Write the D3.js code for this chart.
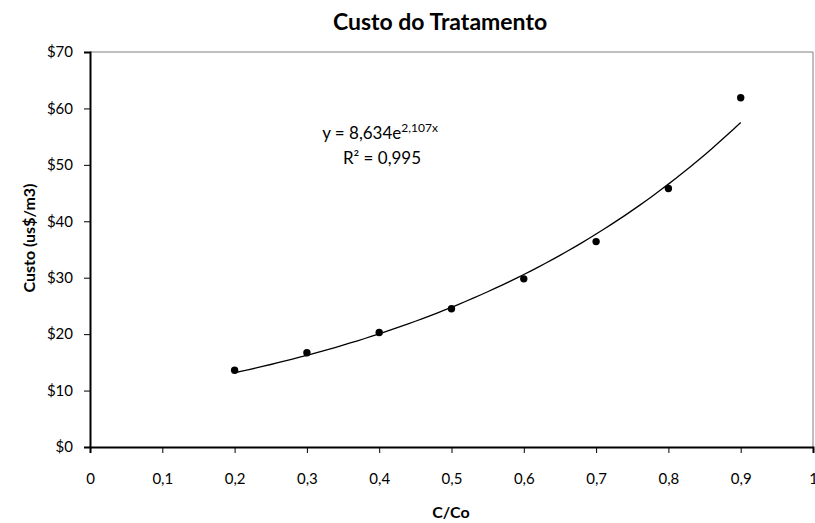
<!DOCTYPE html>
<meta charset="utf-8">
<style>
body { margin: 0; background: #fff; }
text { font-family: Lato, "Open Sans", sans-serif; }
.axis text { font-size: 15px; fill: #000; }
.axis path, .axis line { stroke: #000; }
.titulo { font-size: 23px; font-weight: bold; }
.rotulo { font-size: 16px; font-weight: bold; }
.eq { font-size: 17px; }
</style>

<svg width="815" height="523"></svg>

<script src="https://d3js.org/d3.v7.min.js"></script>
<script>

// dados
var razao = [0.2, 0.3, 0.4, 0.5, 0.6, 0.7, 0.8, 0.9];
var custo = [13.6, 16.7, 20.3, 24.5, 29.8, 36.4, 45.8, 61.9];
var xTicks = [0, 0.1, 0.2, 0.3, 0.4, 0.5, 0.6, 0.7, 0.8, 0.9, 1];
var yTicks = [0, 10, 20, 30, 40, 50, 60, 70];
// linha de tendencia exponencial (y = a e^(b x))
var tendA = 8.634, tendB = 2.107;

var svg = d3.select("svg"),
    margin = {top: 52, right: 2, bottom: 76, left: 90},
    width = +svg.attr("width") - margin.left - margin.right,
    height = +svg.attr("height") - margin.top - margin.bottom;

var g = svg.append("g").attr("transform", "translate(" + margin.left + "," + margin.top + ")");

var x = d3.scaleLinear().domain([0, 1]).range([0, width]);
var y = d3.scaleLinear().domain([0, 70]).range([height, 0]);

var virgula = d3.formatLocale({decimal: ",", thousands: ".", grouping: [3], currency: ["$", ""]});

// borda da area do grafico (topo e direita)
g.append("path")
    .attr("d", "M0,0H" + width + "V" + height)
    .attr("fill", "none")
    .attr("stroke", "#7f7f7f")
    .attr("stroke-width", 1);

g.append("g")
    .attr("class", "axis")
    .attr("transform", "translate(0," + height + ")")
    .call(d3.axisBottom(x).tickValues(xTicks).tickSize(6).tickPadding(20)
      .tickFormat(d => virgula.format(",")(d)))
    .call(a => a.select(".domain").attr("stroke-width", 2));

g.append("g")
    .attr("class", "axis")
    .call(d3.axisLeft(y).tickValues(yTicks).tickSize(6).tickPadding(11)
      .tickFormat(d => "$" + d))
    .call(a => a.select(".domain").attr("stroke-width", 2));

// tendencia
var tx = d3.range(0, 71).map(i => 0.2 + i * 0.01);
g.append("path")
    .datum(tx)
    .attr("fill", "none")
    .attr("stroke", "#000")
    .attr("stroke-width", 1.3)
    .attr("d", d3.line().x(d => x(d)).y(d => y(tendA * Math.exp(tendB * d))));

g.selectAll("circle")
    .data(razao)
    .enter()
    .append("circle")
      .attr("cx", d => x(d))
      .attr("cy", (d, i) => y(custo[i]))
      .attr("r", 3.7)
      .attr("fill", "#000");

// equacao
var eq = g.append("text").attr("class", "eq").attr("x", 290).attr("y", 87).attr("text-anchor", "middle");
eq.append("tspan").text("y = 8,634e");
eq.append("tspan").attr("dy", -7).attr("font-size", 12).text("2,107x");
g.append("text").attr("class", "eq").attr("x", 292).attr("y", 112).attr("text-anchor", "middle").text("R² = 0,995");

svg.append("text").attr("class", "titulo")
    .attr("x", 440).attr("y", 30).attr("text-anchor", "middle")
    .text("Custo do Tratamento");

svg.append("text").attr("class", "rotulo")
    .attr("x", 451).attr("y", 518).attr("text-anchor", "middle")
    .text("C/Co");

svg.append("text").attr("class", "rotulo")
    .attr("transform", "translate(35,238) rotate(-90)")
    .attr("text-anchor", "middle")
    .text("Custo (us$/m3)");

</script>
